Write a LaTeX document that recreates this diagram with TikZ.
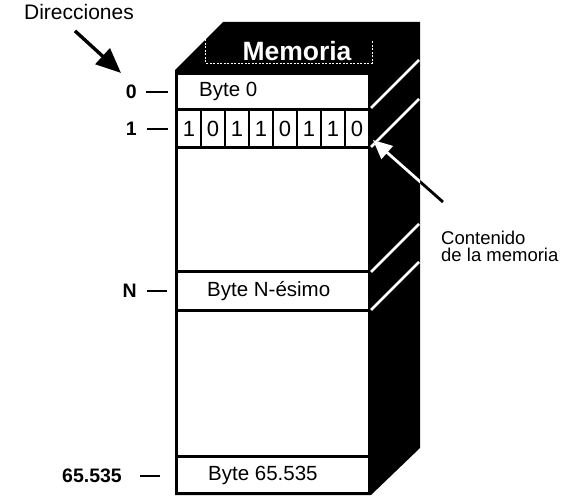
\documentclass[tikz,border=0pt]{standalone}
\usepackage{fontspec}
\setmainfont{Liberation Sans}
\usetikzlibrary{arrows.meta, positioning, calc}

\begin{document}
\begin{tikzpicture}[x=1pt, y=-1pt,
    row/.style={fill=white, minimum width=190pt, inner sep=0pt, anchor=north west},
    rowtext/.style={anchor=west, inner sep=0pt, font=\fontsize{20.5}{24}\selectfont},
    bitcell/.style={fill=white, minimum width=22pt, minimum height=35pt, inner sep=0pt, font=\fontsize{22}{26}\selectfont},
    addr/.style={anchor=east, inner sep=0pt, font=\bfseries\fontsize{19.5}{22}\selectfont},
    tick/.style={line width=2.4pt},
    stripe/.style={white, line width=2.6pt},
    bigarrow/.style={line width=3.4pt, -{Triangle[length=25pt, width=21pt]}},
    ptrarrow/.style={line width=2.8pt, -{Triangle[length=19pt, width=17pt]}}]
    \useasboundingbox (0,0) rectangle (586,497);

    % the memory block, solid black
    \fill (175,70) -- (223,22) -- (420,22) -- (420,448) -- (371,495) -- (175,495) -- cycle;

    % lid with its title
    \draw[white, line width=0.8pt, dash pattern=on 2pt off 1.5pt] (205,36) -- (205,63) -- (372,63) -- (372,40);
    \node[white, inner sep=0pt, font=\bfseries\fontsize{26.5}{30}\selectfont] (lid) at (297,51) {Memoria};

    % rows on the front
    \node[row, minimum height=33pt] (byte0) at (178,75) {};
    \node[row, minimum height=121pt] (gap1) at (178,149) {};
    \node[row, minimum height=36pt] (byteN) at (178,273) {};
    \node[row, minimum height=143pt] (gap2) at (178,312) {};
    \node[row, minimum height=34pt] (byteL) at (178,458) {};
    \foreach \b [count=\i from 0] in {1,0,1,1,0,1,1,0}
        \node[bitcell] (bit\i) at (189+24*\i,128.5) {\b};

    \node[rowtext] (t0) at ([xshift=21pt]byte0.west) {Byte 0};
    \node[rowtext] (tN) at ([xshift=29pt]byteN.west) {Byte N-ésimo};
    \node[rowtext] (tL) at ([xshift=30pt]byteL.west) {Byte 65.535};

    % white bands on the side
    \foreach \y in {108,147,272,310}
        \draw[stripe] (371,\y) -- ++(48,-48);

    % addresses
    \node[addr] (a0) at (137,92) {0};
    \node[addr] (a1) at (137,129) {1};
    \node[addr] (aN) at (137,291) {N};
    \node[addr] (aL) at (122,476) {65.535};
    \draw[tick] ([xshift=9pt]a0.east) -- ($(a0.east -| byte0.west)+(-10,0)$);
    \draw[tick] ([xshift=10pt]a1.east) -- ($(a1.east -| bit0.west)+(-10,0)$);
    \draw[tick] ([xshift=10pt]aN.east) -- ($(aN.east -| byteN.west)+(-11,0)$);
    \draw[tick] ([xshift=18pt]aL.east) -- ($(aL.east -| byteL.west)+(-18,0)$);

    \node[inner sep=0pt, font=\fontsize{21}{24}\selectfont] (dir) at (79,12) {Direcciones};
    \coordinate (dirtip) at (121,73);
    \draw[bigarrow] ([shift={(-4pt,-11pt)}]dir.south) -- (dirtip);

    \node[inner sep=0pt, align=left, anchor=north west, font=\fontsize{18.5}{17}\selectfont] (cont) at (441,231) {Contenido\\de la memoria};
    \coordinate (conttip) at (373,140);
    \draw[ptrarrow] ([shift={(2pt,29pt)}]cont.north west) -- (conttip);
    \begin{scope}
        \clip (371,70) -- (420,22) -- (420,448) -- (371,495) -- cycle;
        \draw[ptrarrow, white] ([shift={(2pt,29pt)}]cont.north west) -- (conttip);
    \end{scope}
\end{tikzpicture}
\end{document}
